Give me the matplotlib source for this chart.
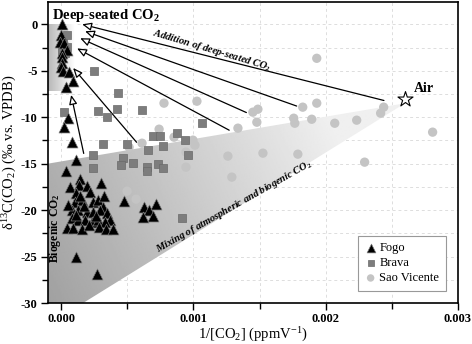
import numpy as np
import matplotlib
matplotlib.use("Agg")
import matplotlib.pyplot as plt
from matplotlib.patches import Polygon, Rectangle
from matplotlib.ticker import MultipleLocator, FormatStrFormatter

plt.rcParams['font.family'] = ['Liberation Serif', 'DejaVu Serif']
plt.rcParams['mathtext.fontset'] = 'custom'
plt.rcParams['mathtext.rm'] = 'Liberation Serif'
plt.rcParams['mathtext.it'] = 'Liberation Serif:italic'
plt.rcParams['mathtext.bf'] = 'Liberation Serif:bold'

# ---------------- data ----------------
fogo_x = [0.0000075, 0.0, -0.0000075, 0.000023, 0.000045, 0.0000075, 0.0000075, 0.0000075, 0.0, 0.000015,
          0.00006, 0.00009, 0.000038, 0.000053, 0.000023, 0.000083, 0.000113, 0.000038,
          0.000143, 0.000068, 0.000136, 0.000196, 0.0003, 0.000113, 0.00022, 0.000106, 0.000158, 0.000242,
          0.00028, 0.000317, 0.000083, 0.000128, 0.000196, 0.000242, 0.000294, 0.000347, 0.00037, 0.000083,
          0.000128, 0.000181, 0.000234, 0.00028, 0.000332, 0.000045, 0.00009, 0.000158, 0.000287, 0.00034,
          0.000392, 0.000113, 0.000174, 0.000264, 0.000211, 0.000143, 0.000325, 0.000053,
          0.000113, 0.00027, 0.000475, 0.000626, 0.000664, 0.000717, 0.00062, 0.000694]
fogo_y = [0.0, -1.2, -1.9, -2.0, -2.8, -3.1, -3.55, -4.2, -4.6, -5.05,
          -5.15, -6.1, -6.8, -10.1, -11.1, -12.7, -14.6, -15.8,
          -16.6, -17.5, -17.3, -17.4, -17.1, -18.2, -18.1, -19.1, -18.9, -19.1,
          -18.9, -19.7, -20.0, -20.0, -20.2, -20.2, -20.0, -20.3, -21.1, -20.9,
          -21.1, -21.1, -21.3, -21.1, -21.3, -21.9, -21.9, -22.0, -21.8, -22.0,
          -22.0, -20.5, -19.6, -20.6, -21.6, -18.5, -18.5, -19.5,
          -25.05, -26.9, -19.0, -19.7, -20.0, -19.35, -20.75, -20.65]

brava_x = [0.000249, 0.00043, 0.000279, 0.000423, 0.000347, 0.000611, 0.001064, 0.000023, 0.000317, 0.000498,
           0.000242, 0.000242, 0.000468, 0.000453, 0.000543, 0.000657, 0.000694, 0.000747, 0.00077, 0.000875,
           0.000936, 0.000958, 0.000649, 0.000649, 0.000732, 0.00077, 0.000045, 0.000015, 0.000045, 0.000008,
           0.00003, 0.000913]
brava_y = [-5.05, -7.42, -9.35, -9.14, -10.0, -9.25, -10.65, -9.46, -12.9, -12.9,
           -14.09, -15.48, -14.41, -15.16, -14.95, -13.55, -12.04, -12.04, -13.12, -11.72,
           -12.47, -14.09, -15.38, -15.81, -15.05, -15.48, -1.18, -2.04, -2.47, -3.01,
           -3.12, -20.86]

sv_x = [0.000777, 0.001026, 0.001932, 0.001449, 0.001487, 0.001826, 0.001932, 0.001336, 0.001479, 0.001758,
        0.001766, 0.001894, 0.002068, 0.002234, 0.002415, 0.002438, 0.002808, 0.00074, 0.000853, 0.000996,
        0.001011, 0.000943, 0.000513, 0.000611, 0.00126, 0.001525, 0.001789, 0.002294, 0.00129, 0.000943,
        0.000498, 0.000566, 0.00003, 0.00001]
sv_y = [-8.49, -8.28, -3.66, -9.46, -9.14, -8.92, -8.49, -11.18, -10.54, -10.11,
        -10.65, -10.22, -10.65, -10.32, -9.57, -8.92, -11.61, -11.29, -12.15, -12.47,
        -13.01, -13.76, -13.23, -12.8, -14.19, -13.87, -13.98, -14.84, -16.45, -15.38,
        -17.96, -18.82, -2.26, -2.8]

air_x, air_y = 0.0026, -8.0

# arrows: tail -> head
arrow_tail_x = [0.00244, 0.00178, 0.0014, 0.00127, 0.00057, 0.00017]
arrow_tail_y = [-8.2, -8.8, -9.5, -11.4, -12.7, -13.9]
arrow_head_x = [0.000158, 0.00018, 0.000143, 0.00012, 0.00009, 0.000075]
arrow_head_y = [0.0, -0.75, -1.5, -2.6, -4.7, -7.6]

# shaded fields
mix_poly_x = [-0.0001, 0.0026, 0.000166, -0.0001]
mix_poly_y = [-15.0, -8.5, -30.0, -30.0]
deep_box = (-0.0001, -7.2, 0.0002, 7.2)  # x, y, w, h

xlim = (-0.0001, 0.003)
ylim = (-30, 2.4)

# ---------------- figure ----------------
fig = plt.figure(figsize=(4.72, 3.44), dpi=100)
ax = fig.add_axes([48/472, 41/344, 410/472, 301/344])
ax.set_xlim(*xlim)
ax.set_ylim(*ylim)

# grid
ax.xaxis.set_major_locator(MultipleLocator(0.001))
ax.xaxis.set_minor_locator(MultipleLocator(0.0005))
ax.yaxis.set_major_locator(MultipleLocator(5))
ax.yaxis.set_minor_locator(MultipleLocator(2.5))
ax.grid(True, which='both', color='#dddddd', ls=(0, (3, 3)), lw=0.7, zorder=0)
ax.set_axisbelow(True)

# mixing field gradient
nx, ny = 300, 300
gx = np.linspace(xlim[0], xlim[1], nx)
gy = np.linspace(ylim[0], ylim[1], ny)
GX, GY = np.meshgrid(gx, gy)
xn = (GX - xlim[0]) / (0.0026 - xlim[0])
yn = (GY - ylim[0]) / (ylim[1] - ylim[0])
G = np.clip(0.63 + 0.30 * xn + 0.12 * yn, 0, 0.94)
img = ax.imshow(G, extent=[xlim[0], xlim[1], ylim[0], ylim[1]], origin='lower',
                cmap='gray', vmin=0, vmax=1, aspect='auto', zorder=1, interpolation='bilinear')
poly = Polygon(list(zip(mix_poly_x, mix_poly_y)), closed=True, fc='none', ec='none')
ax.add_patch(poly)
img.set_clip_path(poly)

# deep-seated box gradient
bx, by, bw, bh = deep_box
D = np.tile(np.linspace(0.72, 1.0, 100), (20, 1))
img2 = ax.imshow(D, extent=[bx, bx + bw, by, by + bh], origin='lower', cmap='gray',
                 vmin=0, vmax=1, aspect='auto', zorder=1, interpolation='bilinear')
rect = Rectangle((bx, by), bw, bh, fc='none', ec='none')
ax.add_patch(rect)
img2.set_clip_path(rect)
ax.set_xlim(*xlim)
ax.set_ylim(*ylim)

# arrows
for tx, ty, hx, hy in zip(arrow_tail_x, arrow_tail_y, arrow_head_x, arrow_head_y):
    ax.annotate('', xy=(hx, hy), xytext=(tx, ty),
                arrowprops=dict(arrowstyle='-|>,head_length=0.7,head_width=0.3', fc='white', ec='black',
                                lw=0.9, shrinkA=0, shrinkB=0, mutation_scale=8), zorder=3)

# points
ax.scatter(sv_x, sv_y, marker='o', s=45, c='#c4c4c4', edgecolors='none', zorder=4, label='Sao Vicente')
ax.scatter(brava_x, brava_y, marker='s', s=34, c='#7d7d7d', edgecolors='#6a6a6a', linewidths=0.5, zorder=5, label='Brava')
ax.scatter(fogo_x, fogo_y, marker='^', s=62, c='black', edgecolors='#777777', linewidths=0.5, zorder=6, label='Fogo')
ax.scatter([air_x], [air_y], marker='*', s=130, facecolors='white', edgecolors='black', linewidths=0.8, zorder=7)

# annotations
ax.text(-0.00007, 0.9, 'Deep-seated CO$_\\mathbf{2}$', fontsize=10.5, fontweight='bold', ha='left', va='center', zorder=8)
ax.text(0.00267, -6.9, 'Air', fontsize=10, fontweight='bold', ha='left', va='center', zorder=8)
ax.text(0.00114, -2.8, 'Addition of deep-seated CO$_\\mathbf{2}$', fontsize=7.5, fontweight='bold', style='italic',
        rotation=-16.6, rotation_mode='anchor', ha='center', va='center', zorder=8)
ax.text(0.00131, -19.6, 'Mixing of atmospheric and biogenic CO$_\\mathbf{2}$', fontsize=7.5, fontweight='bold',
        style='italic', rotation=29.5, rotation_mode='anchor', ha='center', va='center', zorder=8)
ax.text(-0.000045, -21.9, 'Biogenic CO$_\\mathbf{2}$', fontsize=8.5, fontweight='bold', rotation=90,
        ha='center', va='center', zorder=8)

# axes style
ax.xaxis.set_major_formatter(FormatStrFormatter('%.3f'))
ax.yaxis.set_major_formatter(FormatStrFormatter('%d'))
ax.tick_params(axis='both', which='major', direction='out', length=5, width=1, labelsize=9, pad=2.5)
ax.tick_params(axis='both', which='minor', direction='out', length=4, width=1)
ax.tick_params(top=False, right=False, which='both')
for lab in ax.get_xticklabels() + ax.get_yticklabels():
    lab.set_fontweight('bold')
for sp in ax.spines.values():
    sp.set_linewidth(1.2)

ax.set_xlabel('1/[CO$_2$] (ppmV$^{-1}$)', fontsize=10.5, labelpad=0)
ax.set_ylabel('δ$^{13}$C(CO$_2$) (‰ vs. VPDB)', fontsize=10.5, labelpad=1)

handles, labels = ax.get_legend_handles_labels()
order = [2, 1, 0]
leg = ax.legend([handles[i] for i in order], [labels[i] for i in order], loc='lower right',
                fontsize=9, frameon=True, fancybox=False, edgecolor='#999999', framealpha=1,
                borderaxespad=1.0, handletextpad=0.2, handlelength=1.0, labelspacing=0.25, borderpad=0.5,
                markerscale=0.8)
leg.get_frame().set_linewidth(0.8)
leg.set_zorder(10)

fig.savefig('out.png', dpi=100)
